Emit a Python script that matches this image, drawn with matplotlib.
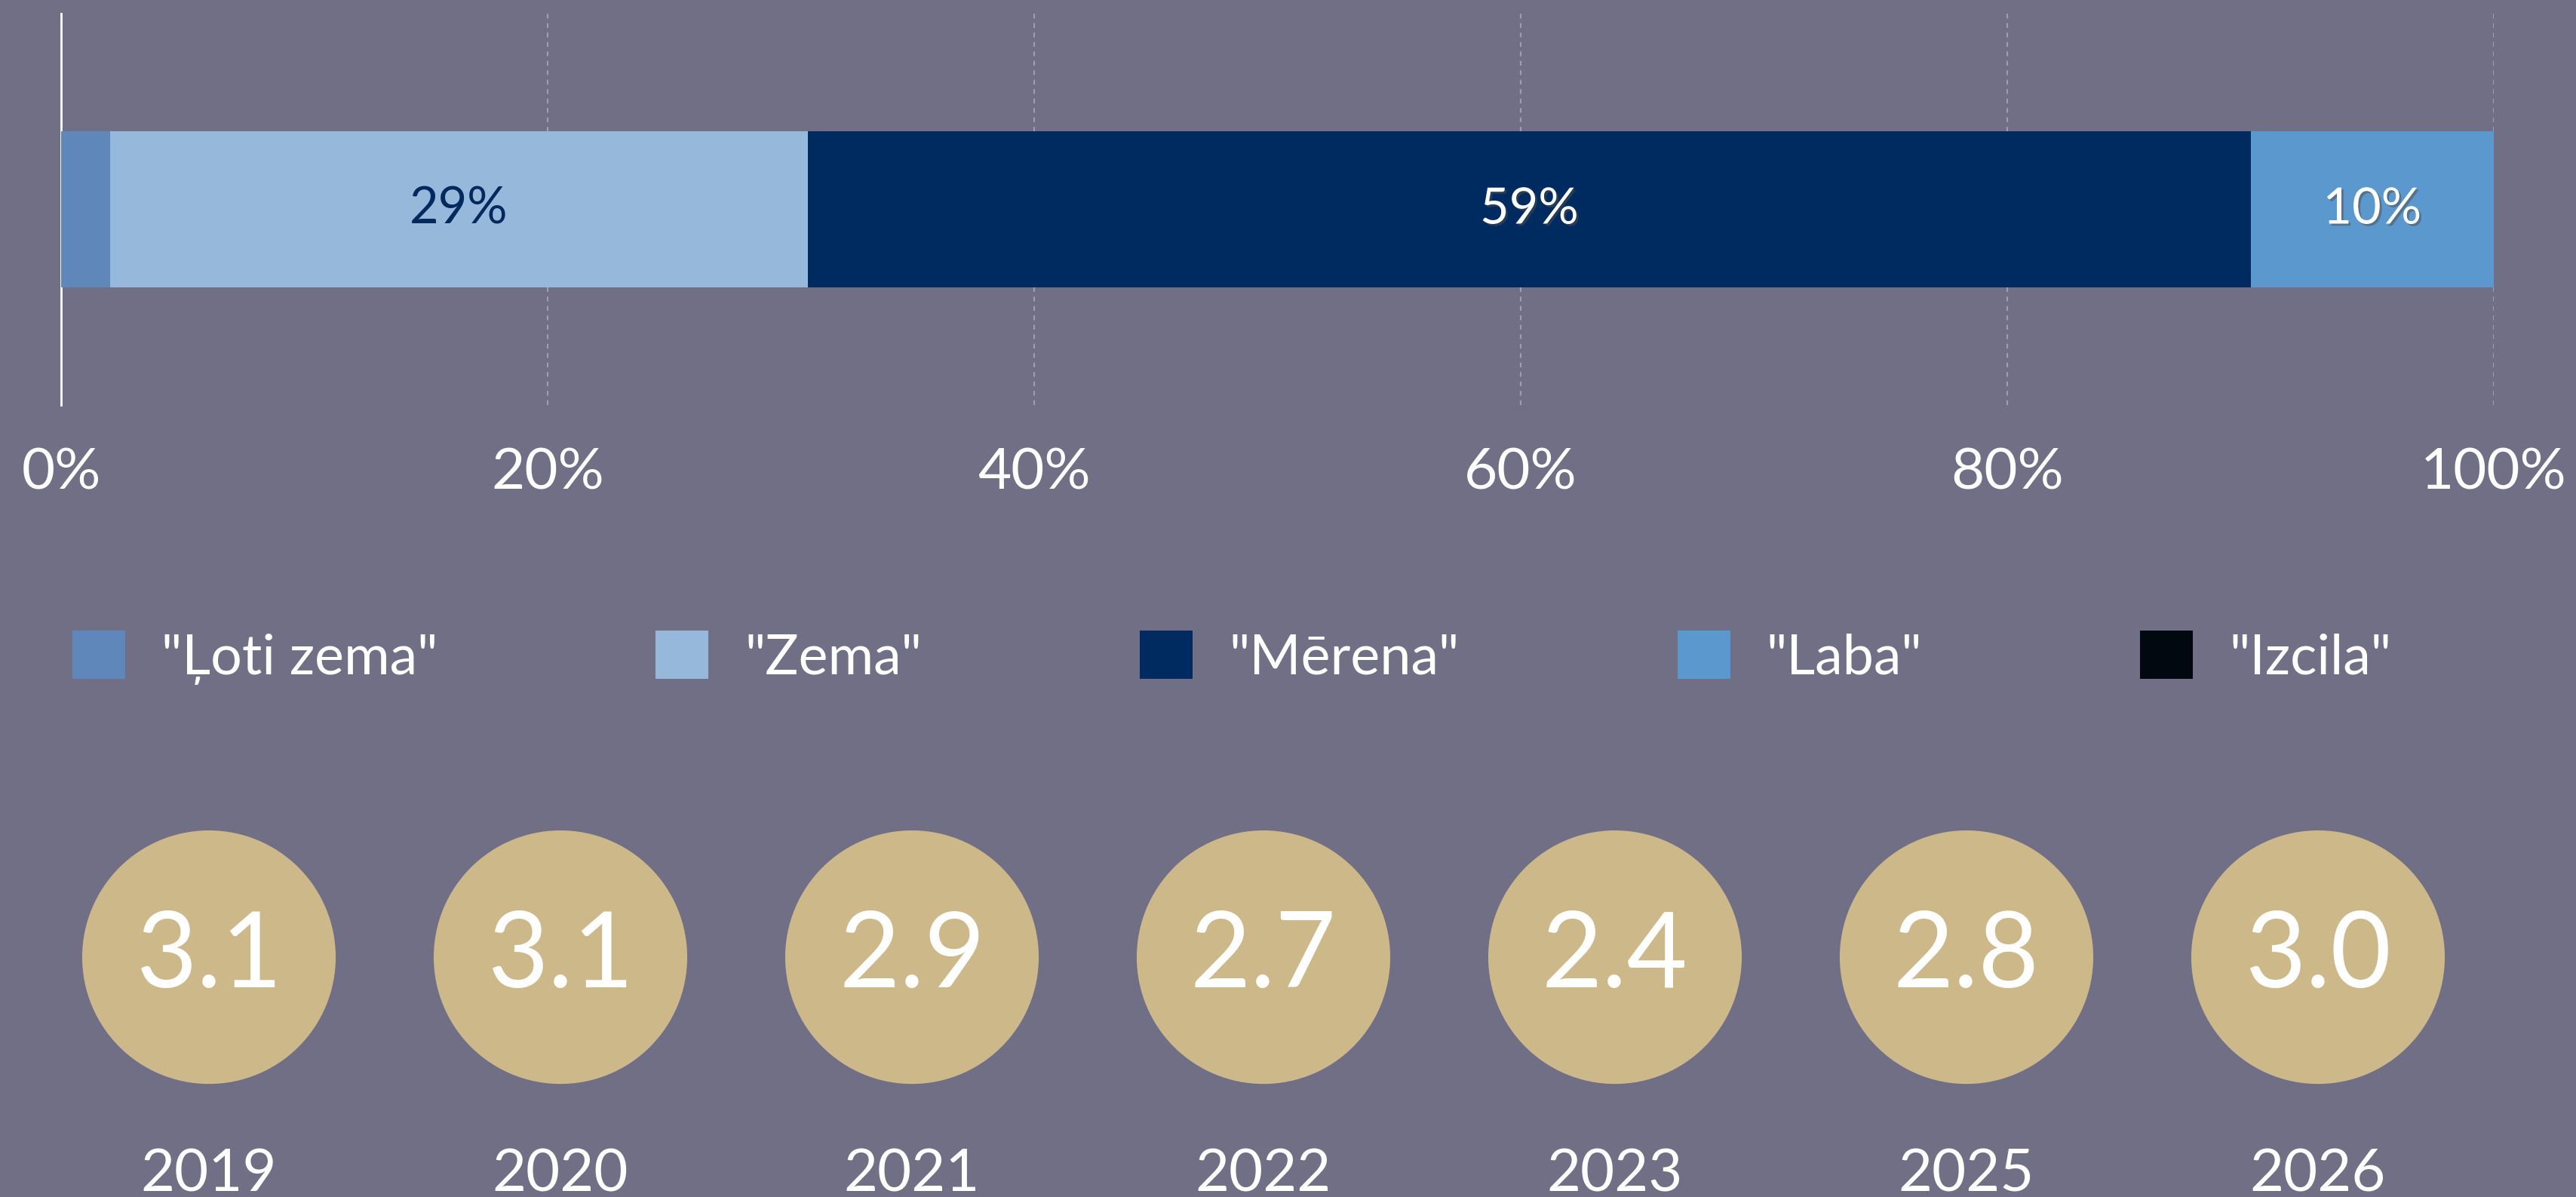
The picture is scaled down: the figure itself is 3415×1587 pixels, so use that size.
import matplotlib
matplotlib.use('Agg')
import matplotlib.pyplot as plt
import matplotlib.patheffects as pe
from matplotlib.patches import Patch

plt.rcParams['font.family'] = ['Lato', 'DejaVu Sans']

# data
categories = ['"Ļoti zema"', '"Zema"', '"Mērena"', '"Laba"', '"Izcila"']
shares = [2.0, 28.7, 59.3, 10.0, 0]
bar_labels = ['', '29%', '59%', '10%', '']
colors = ['#5F87B9', '#95B8DB', '#002B60', '#5B98CD', '#010810']
label_colors = ['white', '#00295E', 'white', 'white', 'white']

years = ['2019', '2020', '2021', '2022', '2023', '2025', '2026']
scores = [3.1, 3.1, 2.9, 2.7, 2.4, 2.8, 3.0]

BG = '#716F86'
W, H = 3415, 1587
fig = plt.figure(figsize=(W / 100, H / 100), dpi=100, facecolor=BG)

# --- stacked bar ---
ax = fig.add_axes([81 / W, 1 - 537 / H, 3225 / W, 519 / H], facecolor=BG)
left = 0
for val, col, lab, lcol in zip(shares, colors, bar_labels, label_colors):
    ax.barh(0, val, left=left, height=0.397, color=col, zorder=3)
    if lab:
        t = ax.text(left + val / 2, 0, lab, ha='center', va='center',
                    fontsize=48, color=lcol, zorder=4)
        if lcol == 'white':
            t.set_path_effects([pe.SimplePatchShadow(offset=(2, -2), alpha=0.5),
                                pe.Normal()])
    left += val

ax.set_xlim(0, 100)
ax.set_ylim(-0.5, 0.5)
ax.set_xticks([0, 20, 40, 60, 80, 100])
ax.set_xticklabels(['0%', '20%', '40%', '60%', '80%', '100%'])
ax.set_yticks([])
ax.tick_params(axis='x', length=0, pad=40, labelsize=55, labelcolor='white')
ax.grid(axis='x', color='#A09EAE', linestyle=(0, (3, 3)), linewidth=1.5, zorder=0)
for s in ['top', 'right', 'bottom']:
    ax.spines[s].set_visible(False)
ax.spines['left'].set_color('white')
ax.spines['left'].set_linewidth(2)

# --- legend ---
handles = [Patch(facecolor=c, edgecolor='none') for c in colors]
fig.legend(handles, categories, loc='center left',
           bbox_to_anchor=(96 / W, 1 - 872 / H), ncol=5, frameon=False,
           fontsize=53, labelcolor='white', handlelength=0.95, handleheight=0.95,
           handletextpad=0.65, columnspacing=3.93, borderpad=0, borderaxespad=0)

# --- yearly scores ---
ax2 = fig.add_axes([44 / W, 0, 3262 / W, 507 / H], facecolor='none')
xs = list(range(len(years)))
ax2.scatter(xs, [0] * len(xs), s=242 ** 2, color='#CDB88A', edgecolors='none')
for x, sc, yr in zip(xs, scores, years):
    ax2.text(x, 0, f'{sc:.1f}', ha='center', va='center', fontsize=100, color='white')
    ax2.text(x, -1.03, yr, ha='center', va='center', fontsize=56, color='white')
ax2.set_xlim(-0.5, 6.5)
ax2.set_ylim(-1.132, 0.673)
ax2.axis('off')

fig.savefig('out.png', dpi=100, facecolor=BG)
